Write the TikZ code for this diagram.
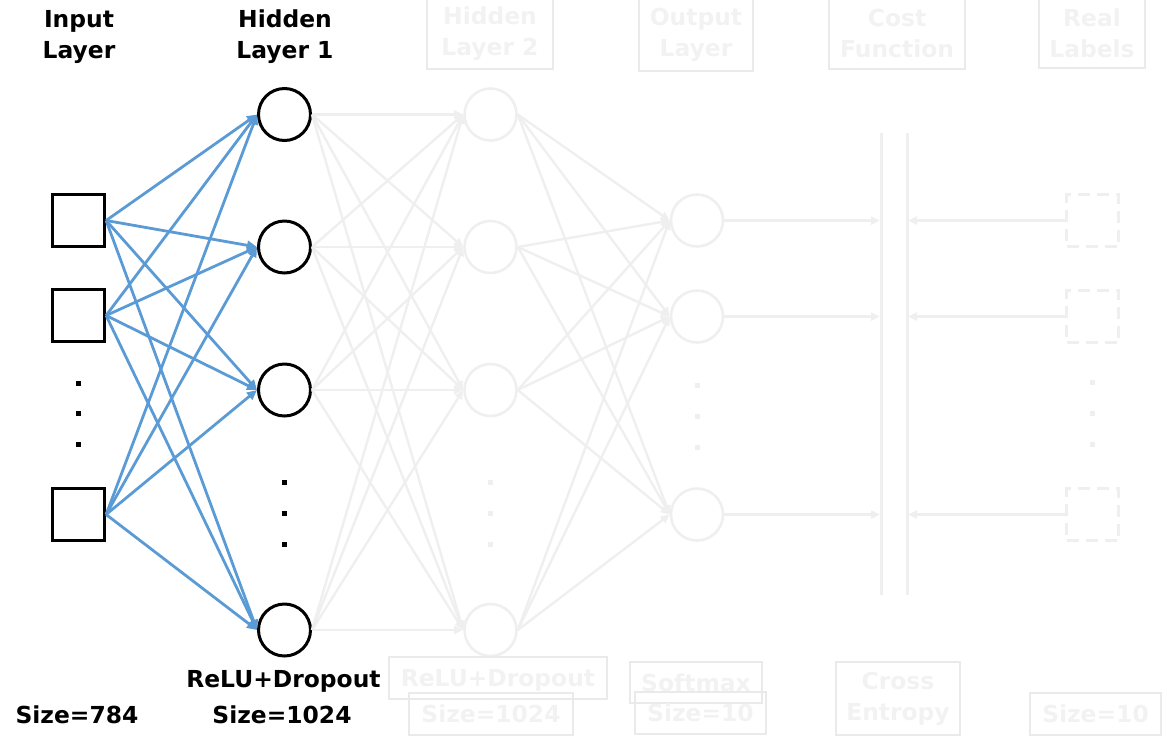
\documentclass[tikz,border=0pt]{standalone}
\usepackage{fontspec}
\setmainfont{DejaVu Sans}
\usetikzlibrary{arrows.meta}
\definecolor{fade}{RGB}{239,239,239}
\definecolor{fadetext}{RGB}{242,242,242}
\definecolor{fadebox}{RGB}{234,234,234}
\definecolor{blueedge}{RGB}{91,155,213}
\begin{document}
\begin{tikzpicture}[x=0.5pt,y=-0.5pt,
  lab/.style={font=\bfseries\fontsize{11.7}{15.5}\selectfont, inner sep=0pt, align=center},
  fadelab/.style={lab, text=fadetext, draw=fadebox, line width=0.6pt, rectangle},
  inbox/.style={rectangle, draw=black, line width=1.6pt, minimum size=26pt, inner sep=0pt},
  neuron/.style={circle, draw=black, line width=1.5pt, minimum size=26pt, inner sep=0pt},
  fadeneuron/.style={circle, draw=fade, line width=1.3pt, minimum size=26pt, inner sep=0pt},
  realbox/.style={rectangle, draw=fade, line width=1.5pt, dash pattern=on 6pt off 3.5pt, minimum size=26pt, inner sep=0pt},
  dotsq/.style={rectangle, fill=black, minimum size=2.5pt, inner sep=0pt},
  fadedot/.style={rectangle, fill=fade, minimum size=2.5pt, inner sep=0pt},
  bluearrow/.style={draw=blueedge, line width=1.4pt, -{Triangle[length=5pt,width=4.5pt]}},
  fadearrow/.style={draw=fade, line width=1.2pt, -{Triangle[length=4.5pt,width=4pt]}},
  costline/.style={draw=fade, line width=1.5pt}
]
\useasboundingbox (0,0) rectangle (1171,745);

% ---------- input layer ----------
\node[inbox] (in1) at (78.5,220.5) {};
\node[inbox] (in2) at (78.5,315.5) {};
\node[inbox] (in3) at (78.5,514.5) {};
\node[dotsq] (ind1) at (78,383) {};
\node[dotsq] (ind2) at (78,413) {};
\node[dotsq] (ind3) at (78,444) {};

% ---------- hidden layer 1 ----------
\node[neuron] (ha1) at (284.5,114.5) {};
\node[neuron] (ha2) at (284.5,247) {};
\node[neuron] (ha3) at (284.5,390) {};
\node[neuron] (ha4) at (284.5,630) {};
\node[dotsq] (had1) at (284,482) {};
\node[dotsq] (had2) at (284,513) {};
\node[dotsq] (had3) at (284,544) {};

% ---------- hidden layer 2 (faded) ----------
\node[fadeneuron] (hb1) at (490.5,114.5) {};
\node[fadeneuron] (hb2) at (490.5,247) {};
\node[fadeneuron] (hb3) at (490.5,390) {};
\node[fadeneuron] (hb4) at (490.5,630) {};
\node[fadedot] (hbd1) at (490,482) {};
\node[fadedot] (hbd2) at (490,513) {};
\node[fadedot] (hbd3) at (490,544) {};

% ---------- output layer (faded) ----------
\node[fadeneuron] (o1) at (697,220.5) {};
\node[fadeneuron] (o2) at (697,316.5) {};
\node[fadeneuron] (o3) at (697,514.5) {};
\node[fadedot] (od1) at (697,385) {};
\node[fadedot] (od2) at (697,416) {};
\node[fadedot] (od3) at (697,447) {};

% ---------- cost function lines ----------
\coordinate (cfa) at (881,133);
\coordinate (cfb) at (881,595);
\coordinate (cga) at (907,133);
\coordinate (cgb) at (907,595);
\draw[costline] (cfa) -- (cfb);
\draw[costline] (cga) -- (cgb);
\coordinate (c1) at (880,220.5);
\coordinate (c2) at (880,316.5);
\coordinate (c3) at (880,514.5);
\coordinate (d1) at (908,220.5);
\coordinate (d2) at (908,316.5);
\coordinate (d3) at (908,514.5);

% ---------- real labels (faded, dashed) ----------
\node[realbox] (r1) at (1092.5,220.5) {};
\node[realbox] (r2) at (1092.5,316.5) {};
\node[realbox] (r3) at (1092.5,514.5) {};
\node[fadedot] (rd1) at (1092,382) {};
\node[fadedot] (rd2) at (1092,413) {};
\node[fadedot] (rd3) at (1092,444) {};

% ---------- faded connectors ----------
\foreach \i in {1,2,3,4}{
  \foreach \j in {1,2,3,4}{
    \draw[fadearrow] (ha\i.east) -- (hb\j.west);
  }
  \foreach \j in {1,2,3}{
    \draw[fadearrow] (hb\i.east) -- (o\j.west);
  }
}
\foreach \i in {1,2,3}{
  \draw[fadearrow] (o\i.east) -- (c\i);
  \draw[fadearrow] (r\i.west) -- (d\i);
}

% ---------- blue connectors ----------
\foreach \i in {1,2,3}{
  \foreach \j in {1,2,3,4}{
    \draw[bluearrow] (in\i.east) -- (ha\j.west);
  }
}

% ---------- top labels ----------
\node[lab, anchor=base] (tin) at (79,58) {Input\\Layer};
\node[lab, anchor=base] (th1) at (285,58) {Hidden\\Layer 1};
\node[fadelab, minimum width=63pt, minimum height=35.5pt] (th2) at (490,33.5) {Hidden\\Layer 2};
\node[fadelab, minimum width=57pt, minimum height=36.5pt] (tout) at (696,34.5) {Output\\Layer};
\node[fadelab, minimum width=68pt, minimum height=35.5pt] (tcf) at (897,33.5) {Cost\\Function};
\node[fadelab, minimum width=53pt, minimum height=35pt] (trl) at (1092,33) {Real\\Labels};

% ---------- bottom labels ----------
\node[lab, anchor=base] (bsz784) at (77,723) {Size=784};
\node[lab, anchor=base] (brelu1) at (283.5,687) {ReLU+Dropout};
\node[lab, anchor=base] (bsz1) at (282,723) {Size=1024};
\node[fadelab, text depth=0pt, minimum width=109pt, minimum height=21pt] (brelu2) at (498,678) {ReLU+Dropout};
\node[fadelab, minimum width=82pt, minimum height=21pt] (bsz2) at (491,714) {Size=1024};
\node[fadelab, minimum width=66pt, minimum height=20.5pt] (bsoft) at (696,682.5) {Softmax};
\node[fadelab, minimum width=65.5pt, minimum height=21pt] (bsz3) at (700.5,713) {Size=10};
\node[fadelab, minimum width=62pt, minimum height=36.5pt] (bce) at (898,698.5) {Cross\\Entropy};
\node[fadelab, minimum width=65.5pt, minimum height=21pt] (bsz4) at (1095.5,714) {Size=10};
\end{tikzpicture}
\end{document}
